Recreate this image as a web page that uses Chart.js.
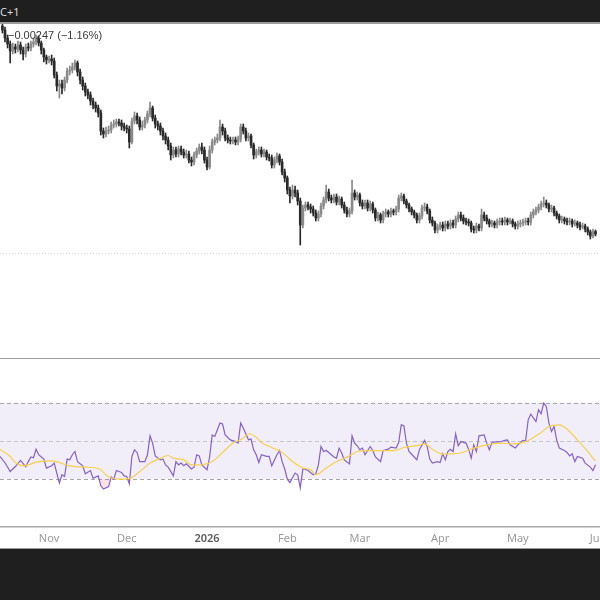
<!doctype html>
<html lang="en">
<head>
<meta charset="utf-8">
<title>Daily candles with RSI</title>
<style>
  html, body {margin:0; padding:0; background:#fff;}
  body {width:600px; height:600px; position:relative; overflow:hidden; font-family:"Noto Sans", Roboto, sans-serif;}
  #topbar {position:absolute; left:0; top:0; width:600px; height:22px; background:#1f1f1f; border-bottom:2px solid #9b9b9b; color:#d8d8d8; font-size:11px; line-height:23px;}
  #legend {position:absolute; left:8px; top:29px; font-family:"Liberation Sans", Arial, sans-serif; font-size:11px; color:#3a3a3a; z-index:2;}
  .pane {position:absolute; left:0; width:600px; overflow:hidden;}
  #pricePane {top:24px; height:334px;}
  #sep {position:absolute; left:0; top:358px; width:600px; height:1px; background:#9e9e9e;}
  #rsiPane {top:359px; height:190px;}
  #bottombar {position:absolute; left:0; top:548px; width:600px; height:52px; background:#1f1f1f; border-top:1px solid #9b9b9b;}
</style>
</head>
<body>
<div id="topbar">C+1</div>
<div id="legend">−0.00247 (−1.16%)</div>
<div class="pane" id="pricePane"><canvas id="price" width="640" height="334"></canvas></div>
<div id="sep"></div>
<div class="pane" id="rsiPane"><canvas id="rsi" width="640" height="190"></canvas></div>
<div id="bottombar"></div>

<script src="https://cdn.jsdelivr.net/npm/chart.js@4.4.1/dist/chart.umd.min.js"></script>
<script>
// daily candles, index 0 = Oct 14, one candle per day
var opens = [
  .420,.416,.408,.402,.395,.399,.397,.401,.396,.392, .399,.398,.402,.404,.407,.403,.396,.389,.386,.387,
  .385,.371,.360,.362,.358,.366,.375,.376,.379,.383, .374,.366,.360,.354,.351,.345,.341,.338,.333,.315,
  .312,.315,.316,.321,.322,.324,.323,.320,.318,.317, .304,.325,.330,.326,.319,.321,.326,.332,.338,.328,
  .322,.320,.315,.310,.306,.300,.291,.296,.292,.297, .294,.291,.292,.286,.284,.291,.295,.299,.296,.286,
  .279,.296,.304,.306,.308,.319,.315,.308,.306,.305, .306,.304,.307,.319,.315,.308,.310,.301,.291,.294,
  .296,.292,.294,.289,.288,.281,.286,.290,.284,.274, .268,.256,.250,.256,.253,.245,.221,.238,.241,.239,
  .237,.233,.228,.232,.240,.246,.254,.248,.246,.249, .244,.247,.241,.236,.232,.235,.253,.249,.251,.243,
  .240,.243,.238,.242,.236,.228,.231,.226,.232,.234, .232,.235,.234,.237,.248,.250,.245,.241,.237,.234,
  .231,.226,.230,.238,.239,.235,.226,.223,.216,.219, .221,.218,.222,.220,.223,.221,.227,.231,.228,.225,
  .224,.223,.217,.216,.220,.218,.231,.228,.225,.222, .223,.221,.224,.225,.224,.226,.224,.225,.222,.220,
  .222,.223,.224,.225,.224,.231,.234,.236,.239,.242, .243,.241,.237,.238,.233,.230,.226,.227,.225,.224,
  .225,.222,.223,.221,.219,.220,.217,.214,.210,.2145
];
var highs = [
  .424,.419,.411,.405,.403,.402,.405,.404,.399,.402, .403,.405,.408,.411,.410,.405,.398,.391,.390,.391,
  .388,.374,.366,.366,.369,.378,.380,.383,.386,.385, .377,.369,.363,.357,.354,.348,.344,.341,.336,.318,
  .319,.320,.324,.326,.327,.327,.326,.323,.321,.320, .328,.334,.333,.329,.325,.329,.335,.344,.340,.331,
  .325,.323,.318,.313,.309,.303,.299,.299,.300,.300, .297,.296,.295,.289,.294,.298,.302,.303,.299,.289,
  .300,.307,.309,.312,.326,.322,.318,.311,.309,.309, .309,.310,.322,.322,.318,.313,.312,.303,.297,.299,
  .299,.297,.296,.292,.291,.289,.293,.292,.287,.277, .270,.259,.261,.260,.256,.248,.241,.244,.244,.242,
  .240,.236,.235,.243,.249,.261,.257,.251,.252,.252, .250,.249,.244,.239,.238,.266,.256,.254,.253,.246,
  .246,.246,.245,.244,.238,.234,.233,.235,.237,.236, .238,.237,.240,.251,.253,.252,.247,.243,.239,.236,
  .233,.233,.241,.243,.242,.237,.229,.225,.222,.224, .224,.225,.225,.226,.226,.230,.234,.234,.231,.228,
  .227,.225,.220,.223,.222,.237,.234,.231,.227,.226, .225,.227,.228,.228,.229,.228,.228,.227,.224,.225,
  .226,.227,.228,.228,.234,.237,.239,.242,.245,.249, .246,.243,.241,.240,.235,.232,.230,.229,.228,.228,
  .227,.226,.225,.224,.223,.222,.219,.216,.217,.216
];
var lows = [
  .413,.404,.398,.383,.392,.393,.394,.392,.386,.389, .395,.395,.399,.401,.400,.392,.384,.382,.383,.381,
  .368,.355,.348,.352,.355,.363,.371,.373,.376,.370, .362,.356,.350,.347,.341,.337,.334,.329,.311,.308,
  .309,.312,.313,.318,.319,.320,.316,.315,.313,.298, .302,.322,.322,.316,.316,.318,.323,.329,.325,.318,
  .316,.311,.306,.302,.296,.286,.288,.289,.289,.291, .288,.288,.283,.280,.281,.288,.292,.292,.283,.276,
  .277,.293,.301,.303,.305,.311,.305,.303,.302,.302, .301,.301,.304,.312,.305,.305,.298,.287,.288,.291,
  .289,.289,.286,.285,.278,.278,.283,.281,.271,.264, .252,.243,.247,.249,.241,.201,.218,.235,.236,.233,
  .230,.225,.225,.229,.237,.243,.245,.243,.243,.241, .241,.238,.233,.229,.229,.232,.246,.246,.240,.237,
  .237,.235,.235,.233,.225,.225,.223,.223,.229,.229, .229,.231,.231,.234,.245,.242,.238,.234,.231,.228,
  .223,.223,.227,.235,.232,.223,.220,.213,.213,.216, .215,.215,.217,.217,.218,.218,.224,.225,.222,.221,
  .220,.214,.213,.213,.215,.215,.225,.222,.219,.219, .218,.218,.221,.221,.221,.221,.222,.219,.217,.217,
  .219,.220,.221,.221,.221,.228,.231,.233,.236,.239, .238,.234,.234,.230,.227,.223,.223,.222,.221,.221,
  .219,.220,.218,.216,.217,.214,.211,.207,.208,.210
];
var closes = [
  .416,.408,.402,.395,.399,.397,.401,.396,.392,.399, .398,.402,.404,.407,.403,.396,.389,.386,.387,.385,
  .371,.360,.362,.358,.366,.375,.376,.379,.383,.374, .366,.360,.354,.351,.345,.341,.338,.333,.315,.312,
  .315,.316,.321,.322,.324,.323,.320,.318,.317,.304, .325,.330,.326,.319,.321,.326,.332,.338,.328,.322,
  .320,.315,.310,.306,.300,.291,.296,.292,.297,.294, .291,.292,.286,.284,.291,.295,.299,.296,.286,.279,
  .296,.304,.306,.308,.319,.315,.308,.306,.305,.306, .304,.307,.319,.315,.308,.310,.301,.291,.294,.296,
  .292,.294,.289,.288,.281,.286,.290,.284,.274,.268, .256,.250,.256,.253,.245,.221,.238,.241,.239,.237,
  .233,.228,.232,.240,.246,.254,.248,.246,.249,.244, .247,.241,.236,.232,.235,.253,.249,.251,.243,.240,
  .243,.238,.242,.236,.228,.231,.226,.232,.234,.232, .235,.234,.237,.248,.250,.245,.241,.237,.234,.231,
  .226,.230,.238,.239,.235,.226,.223,.216,.219,.221, .218,.222,.220,.223,.221,.227,.231,.228,.225,.224,
  .223,.217,.216,.220,.218,.231,.228,.225,.222,.223, .221,.224,.225,.224,.226,.224,.225,.222,.220,.222,
  .223,.224,.225,.224,.231,.234,.236,.239,.242,.243, .241,.237,.238,.233,.230,.226,.227,.225,.224,.225,
  .222,.223,.221,.219,.220,.217,.214,.210,.2145,.212
];

var rsiDays = [-1,1,3,5,7,9,10,11,12,13,14,16,17,19,20,21,22,23,24,25,26,27,28,29,31,32,34,35,37,38,39,41,42,43,44,46,47,48,49,50,
  51,52,53,55,56,57,58,59,61,62,63,64,66,67,68,69,70,71,73,74,75,76,77,79,80,81,82,83,84,85,86,88,90,91,92,93,95,96,97,98,
  99,100,102,103,104,106,107,108,109,110,111,113,114,115,116,117,118,120,121,122,123,124,125,126,128,129,130,131,132,134,135,136,137,138,
  139,140,142,143,144,146,147,149,150,152,153,154,155,156,157,159,160,161,163,164,165,166,168,169,170,171,172,173,174,175,176,177,179,180,
  181,182,183,184,186,187,188,189,191,192,194,195,196,198,199,201,202,203,204,206,207,208,209,210,211,212,213,214,215,217,218,219,220,221,
  222,224,225,227,228,229];
var rsiValues = [41.8,38.5,33.9,36.5,39.7,36.4,39.1,41.5,41.1,45.6,42.7,40.4,35.7,36.9,38.3,33.1,27.8,32.2,31.3,40.4,40.0,42.7,44.4,39.1,36.9,32.7,34.4,30.4,31.6,26.4,24.7,26.0,31.0,29.9,34.4,33.4,31.6,31.3,27.5,41.8,
  45.3,43.9,39.1,39.1,42.7,52.6,48.8,42.1,40.0,40.4,37.4,36.2,31.6,39.1,37.4,38.3,36.9,37.9,35.2,36.2,42.7,42.1,37.4,34.8,41.5,53.1,52.3,55.8,59.3,58.8,53.1,50.5,49.6,48.8,59.3,56.7,50.5,50.9,45.3,42.7,
  38.6,42.7,41.8,41.8,36.9,42.7,44.9,39.1,35.2,29.9,28.1,33.1,32.2,25.2,35.2,35.0,34.4,32.2,32.7,37.4,47.0,44.4,44.9,43.9,41.5,40.9,46.2,43.6,40.0,37.9,52.6,48.8,47.4,45.3,
  46.2,42.7,47.0,44.9,41.5,39.1,44.9,45.6,46.7,46.2,49.1,58.4,57.9,48.8,44.4,41.5,40.0,45.3,50.2,47.0,40.4,38.3,39.1,38.6,43.2,40.0,44.4,45.6,44.4,53.7,47.4,49.6,48.8,45.6,
  40.9,47.9,44.4,52.6,53.1,48.8,45.3,49.1,49.6,49.4,50.2,50.5,47.9,46.2,47.9,50.2,50.0,61.0,64.0,60.1,66.3,64.2,69.8,68.0,59.3,54.9,57.5,50.5,46.2,44.9,43.9,42.1,43.2,39.1,
  41.8,40.9,38.3,36.2,34.4,37.4];
var maDays = [-1,3,5,8,10,13,19,26,32,37,41,45,49,53,57,61,64,66,70,73,77,81,85,89,93,95,98,100,104,108,112,116,
  119,121,125,129,134,137,141,146,151,155,160,163,166,170,177,182,187,192,197,202,208,211,215,218,222,226,228,229];
var maValues = [45.6,41.8,38.6,36.9,37.4,38.8,39.5,36.9,36.2,35.5,31.0,29.9,30.2,33.9,38.3,40.9,42.3,40.9,40.0,37.4,37.4,39.1,43.9,48.8,51.4,53.7,51.9,49.1,46.5,43.9,39.1,35.7,
  34.8,32.2,35.7,39.1,42.1,44.4,44.9,44.9,44.8,46.5,47.5,48.4,45.6,43.0,43.6,46.2,47.9,48.8,48.4,49.6,54.4,57.5,58.4,56.1,50.5,44.4,40.9,39.5];

var rsiLevels = [70, 50, 30];
var priceGrid = [0.193];
var monthTicks = [18, 48, 79, 110, 138, 169, 199, 230];
var monthLabels = ['Nov', 'Dec', '2026', 'Feb', 'Mar', 'Apr', 'May', 'Jun'];

var X_MIN = -0.93;
var X_MAX = X_MIN + 640 / 2.59;
var UP = '#8a8a8a', DOWN = '#2a2a2a';

// horizontal bands and dashed level lines, placed through the y scale
var paneLines = {
  id: 'paneLines',
  beforeDatasetsDraw: function(chart, args, opts) {
    var ctx = chart.ctx, a = chart.chartArea, y = chart.scales.y;
    ctx.save();
    if (opts.band) {
      var t = y.getPixelForValue(opts.band[1]), b = y.getPixelForValue(opts.band[0]);
      ctx.fillStyle = opts.bandColor;
      ctx.fillRect(a.left, t, a.width, b - t);
    }
    (opts.lines || []).forEach(function(l) {
      var py = Math.round(y.getPixelForValue(l.value)) + 0.5;
      ctx.beginPath();
      ctx.setLineDash(l.dash);
      ctx.strokeStyle = l.color;
      ctx.lineWidth = 1;
      ctx.moveTo(a.left, py);
      ctx.lineTo(a.right, py);
      ctx.stroke();
    });
    ctx.restore();
  }
};

var candleColors = closes.map(function(c, i) { return c >= opens[i] ? UP : DOWN; });

new Chart(document.getElementById('price'), {
  type: 'bar',
  data: {
    datasets: [{
      data: lows.map(function(l, i) { return {x: i, y: [l, highs[i]]}; }),
      backgroundColor: candleColors, barThickness: 1, grouped: false
    }, {
      data: opens.map(function(o, i) { return {x: i, y: [o, closes[i]]}; }),
      backgroundColor: candleColors, barThickness: 2, minBarLength: 1, grouped: false
    }]
  },
  options: {
    responsive: false, animation: false, events: [],
    plugins: {
      legend: {display: false}, tooltip: {enabled: false},
      paneLines: {lines: priceGrid.map(function(v) { return {value: v, color: '#d6d6d6', dash: [1, 2]}; })}
    },
    scales: {
      x: {type: 'linear', min: X_MIN, max: X_MAX, offset: false, display: false},
      y: {min: 0.088, max: 0.422, display: false}
    }
  },
  plugins: [paneLines]
});

new Chart(document.getElementById('rsi'), {
  type: 'line',
  data: {
    datasets: [{
      data: maDays.map(function(d, i) { return {x: d, y: maValues[i]}; }),
      borderColor: '#f7cf4f', borderWidth: 1.2, pointRadius: 0, cubicInterpolationMode: 'monotone', fill: false
    }, {
      data: rsiDays.map(function(d, i) { return {x: d, y: rsiValues[i]}; }),
      borderColor: '#8560c8', borderWidth: 1.2, pointRadius: 0, tension: 0,
      fill: {target: {value: 30}, above: 'rgba(0,0,0,0)', below: 'rgba(242,54,69,0.14)'}
    }]
  },
  options: {
    responsive: false, animation: false, events: [],
    layout: {padding: 0},
    plugins: {
      legend: {display: false}, tooltip: {enabled: false},
      paneLines: {
        band: [30, 70], bandColor: 'rgba(126,87,194,0.1)',
        lines: rsiLevels.map(function(v) { return {value: v, color: v === 50 ? '#c4c4c4' : '#a6a6a6', dash: [4, 3]}; })
      }
    },
    scales: {
      x: {
        type: 'linear', min: X_MIN, max: X_MAX, offset: false,
        grid: {display: false, drawTicks: false},
        border: {color: '#a8a8a8', width: 1.5},
        afterBuildTicks: function(s) { s.ticks = monthTicks.map(function(v) { return {value: v}; }); },
        afterFit: function(s) { s.height = 22; },
        ticks: {
          padding: 5, maxRotation: 0, autoSkip: false,
          callback: function(v) { return monthLabels[monthTicks.indexOf(v)]; },
          color: function(c) { return c.tick && c.tick.value === 79 ? '#5a5a5a' : '#9a9a9a'; },
          font: function(c) { return {family: 'Noto Sans', size: 11, weight: c.tick && c.tick.value === 79 ? '600' : '400'}; }
        }
      },
      y: {min: 4.8, max: 92.9, display: false}
    }
  },
  plugins: [paneLines]
});
</script>
</body>
</html>
